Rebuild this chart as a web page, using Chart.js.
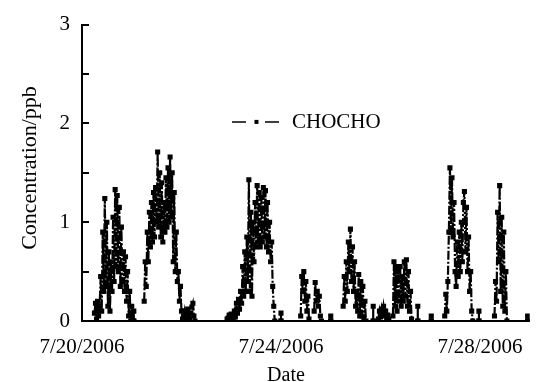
<!DOCTYPE html>
<html>
<head>
<meta charset="utf-8">
<script src="https://cdn.jsdelivr.net/npm/chart.js@4"></script>
<style>
  body { margin: 0; background: #fff; }
</style>
</head>
<body>
<canvas id="chochoChart" width="537" height="382"></canvas>
<script>
// Glyoxal (CHOCHO) measurements, hours since 7/20/2006 00:00
// each episode is sampled every half hour from its start hour
const stepHours = 0.5;

const ep1Start = 6;
const ep1 = [0.08, 0.18, 0.02, 0.2, 0.05, 0.15, 0.45, 0.1, 0.9, 0.3, 1.24, 0.35, 1.0, 0.15, 0.7, 0.1, 0.6, 0.3, 1.05,
  0.4, 1.33, 0.55, 1.27, 0.5, 1.15, 0.35, 0.95, 0.4, 0.7, 0.3, 0.65, 0.2, 0.5, 0.05, 0.3, 0.0, 0.15, 0.0];

const ep2Start = 30;
const ep2 = [0.2, 0.6, 0.35, 0.9, 0.6, 1.1, 0.75, 1.2, 0.8, 1.3, 0.85, 1.35, 1.0, 1.71, 0.95, 1.5, 0.85, 1.4, 0.8, 1.2,
  0.9, 1.45, 0.95, 1.55, 1.0, 1.66, 1.05, 1.5, 0.6, 1.3, 0.5, 0.9, 0.4, 0.5, 0.2, 0.35, 0.1, 0.02];

const ep3Start = 49;
const ep3 = [0.04, 0.1, 0.02, 0.06, 0.12, 0.03, 0.02, 0.08, 0.14, 0.18, 0.05, 0.0];

const ep4Start = 70;
const ep4 = [0.02, 0.03, 0.06, 0.04, 0.07, 0.03, 0.05, 0.1, 0.04, 0.18, 0.08, 0.22, 0.12, 0.3, 0.18, 0.55, 0.25, 0.7,
  0.3, 0.85, 0.4, 1.43, 0.3, 1.1, 0.25, 1.0, 0.6, 1.2, 0.75, 1.37, 0.8, 1.3, 0.75, 1.25, 0.8, 1.35, 0.85, 1.32, 0.75,
  1.2, 0.7, 1.0, 0.6, 0.8, 0.35, 0.15, 0.0];

const ep5Start = 105.5;
const ep5 = [0.05, 0.45, 0.3, 0.5, 0.2, 0.4, 0.1, 0.25, 0.02];

const ep6Start = 112;
const ep6 = [0.1, 0.39, 0.2, 0.3, 0.15, 0.25, 0.05, 0.0];

const ep7Start = 126;
const ep7 = [0.15, 0.45, 0.2, 0.6, 0.3, 0.8, 0.5, 0.93, 0.4, 0.75, 0.3, 0.6, 0.15, 0.3, 0.1, 0.47, 0.05, 0.4, 0.05,
  0.35, 0.02, 0.2, 0.0];

const ep8Start = 143;
const ep8 = [0.02, 0.1, 0.04, 0.12, 0.05, 0.15, 0.08, 0.1, 0.03, 0.06, 0.02];

const ep9Start = 150;
const ep9 = [0.05, 0.6, 0.15, 0.55, 0.1, 0.5, 0.2, 0.55, 0.15, 0.45, 0.2, 0.6, 0.25, 0.62, 0.15, 0.5, 0.1, 0.3, 0.02];

const ep10Start = 175;
const ep10 = [0.05, 0.27, 0.1, 0.4, 0.9, 1.55, 0.9, 1.45, 0.85, 1.2, 0.5, 0.35, 0.8, 0.45, 0.9, 0.5, 1.0, 0.6, 1.2,
  1.31, 0.7, 1.15, 0.5, 0.85, 0.3, 0.5, 0.1, 0.0];

const ep11Start = 199;
const ep11 = [0.05, 0.4, 0.2, 1.1, 0.6, 1.37, 0.3, 1.05, 0.15, 0.9, 0.1, 0.5, 0.0];

// single readings standing alone between episodes
const spikeHours = [25, 96, 120, 140.5, 162, 168.5, 191.5, 215];
const spikeValues = [0.1, 0.08, 0.05, 0.15, 0.15, 0.05, 0.1, 0.05];

const tickHours = [0, 96, 192];
const tickLabels = ['7/20/2006', '7/24/2006', '7/28/2006'];
const yLabels = [0, 1, 2, 3];

const seriesName = 'CHOCHO';
const xTitle = 'Date';
const yTitle = 'Concentration/ppb';

const episodes = [
  [ep1Start, ep1], [ep2Start, ep2], [ep3Start, ep3], [ep4Start, ep4], [ep5Start, ep5], [ep6Start, ep6],
  [ep7Start, ep7], [ep8Start, ep8], [ep9Start, ep9], [ep10Start, ep10], [ep11Start, ep11]
];

const points = [];
episodes.forEach(([start, vals]) => {
  vals.forEach((v, i) => points.push({ x: start + i * stepHours, y: v }));
  points.push({ x: start + vals.length * stepHours, y: null });
});
spikeHours.forEach((h, i) => {
  points.push({ x: h, y: 0 }, { x: h, y: spikeValues[i] }, { x: h, y: 0 }, { x: h, y: null });
});

const serif = 'Liberation Serif, Times New Roman, serif';

// inward y ticks, floating legend and axis titles
const decor = {
  id: 'decor',
  afterDraw(chart) {
    const { ctx, chartArea: area, scales: { y } } = chart;
    ctx.save();
    ctx.strokeStyle = '#000';
    ctx.lineWidth = 2;
    y.ticks.forEach(t => {
      const py = Math.round(y.getPixelForValue(t.value));
      ctx.beginPath();
      ctx.moveTo(area.left, py);
      ctx.lineTo(area.left + 7, py);
      ctx.stroke();
    });

    // legend
    const ly = y.getPixelForValue(2) - 1.5;
    const lx = area.left + 150;
    ctx.lineWidth = 1.5;
    ctx.setLineDash([14, 19]);
    ctx.beginPath();
    ctx.moveTo(lx, ly);
    ctx.lineTo(lx + 48, ly);
    ctx.stroke();
    ctx.setLineDash([]);
    ctx.fillStyle = '#000';
    ctx.fillRect(lx + 22.5, ly - 2, 4, 4);
    ctx.font = '21px ' + serif;
    ctx.textBaseline = 'middle';
    ctx.textAlign = 'left';
    ctx.fillText(chart.data.datasets[0].label, lx + 60, ly + 1);

    // axis titles
    ctx.font = '20px ' + serif;
    ctx.textAlign = 'center';
    ctx.textBaseline = 'alphabetic';
    ctx.fillText(xTitle, 286, 381);
    ctx.translate(30, 168);
    ctx.rotate(-Math.PI / 2);
    ctx.font = '22px ' + serif;
    ctx.textBaseline = 'middle';
    ctx.fillText(yTitle, 0, 0);
    ctx.restore();
  }
};

const ctx = document.getElementById('chochoChart').getContext('2d');
const chochoChart = new Chart(ctx, {
  type: 'line',
  data: {
    datasets: [{
      label: seriesName,
      data: points,
      borderColor: '#000',
      borderWidth: 2.2,
      borderDash: [9, 2, 2, 2],
      pointStyle: 'rect',
      pointRadius: 3.6,
      pointBackgroundColor: '#000',
      pointBorderWidth: 0,
      tension: 0,
      spanGaps: false
    }]
  },
  options: {
    responsive: false,
    animation: false,
    layout: { padding: { top: 20, right: 4, left: 0, bottom: 0 } },
    plugins: {
      legend: { display: false },
      tooltip: { enabled: false }
    },
    scales: {
      x: {
        type: 'linear',
        min: 0,
        max: 216,
        grid: { display: false, drawTicks: false },
        border: { display: true, color: '#000', width: 2 },
        afterBuildTicks: s => { s.ticks = tickHours.map(v => ({ value: v })); },
        afterFit: s => { s.height = 61; },
        ticks: {
          autoSkip: false,
          maxRotation: 0,
          padding: 14,
          color: '#000',
          font: { family: serif, size: 21 },
          callback: v => tickLabels[tickHours.indexOf(v)]
        }
      },
      y: {
        min: 0,
        max: 3,
        grid: { display: false, drawTicks: false },
        border: { display: true, color: '#000', width: 2 },
        afterFit: s => { s.width = 82; },
        ticks: {
          stepSize: 0.5,
          padding: 12,
          color: '#000',
          font: { family: serif, size: 21 },
          callback: v => yLabels.includes(v) ? String(v) : ''
        }
      }
    }
  },
  plugins: [decor]
});
</script>
</body>
</html>
